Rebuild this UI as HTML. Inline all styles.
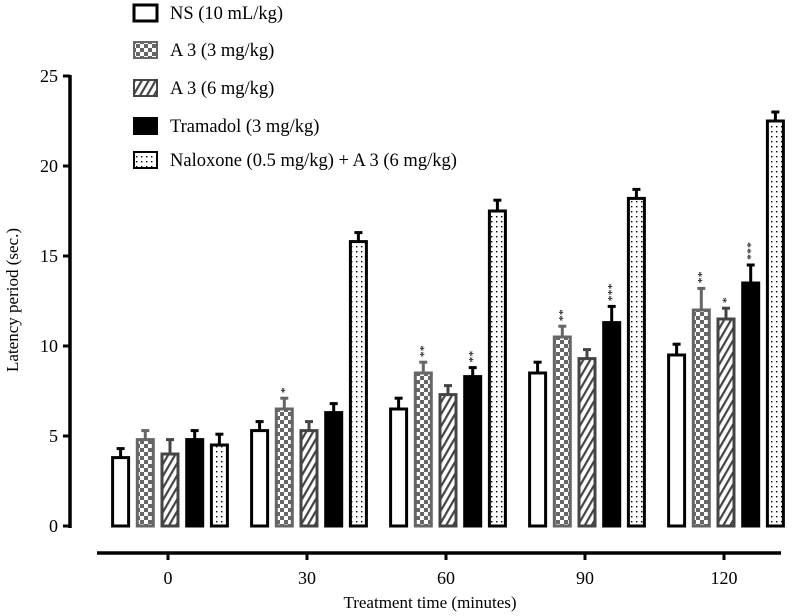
<!DOCTYPE html>
<html><head><meta charset="utf-8"><style>
body{margin:0;background:#fff}
svg{display:block;font-family:"Liberation Serif",serif}
</style></head><body>
<svg id="c" width="797" height="616">
<defs>
<pattern id="chk" width="8" height="8" patternUnits="userSpaceOnUse"><rect width="8" height="8" fill="#666"/><rect width="4" height="4" fill="#fff"/><rect x="4" y="4" width="4" height="4" fill="#fff"/></pattern>
<pattern id="hat" width="6" height="6" patternUnits="userSpaceOnUse" patternTransform="rotate(30)"><rect width="6" height="6" fill="#fff"/><rect width="2.2" height="6" fill="#444"/></pattern>
<pattern id="dot" width="5" height="5" patternUnits="userSpaceOnUse"><rect width="5" height="5" fill="#fff"/><rect x="1" y="1" width="1.4" height="1.4" fill="#000"/></pattern>
</defs>
<g id="axes"></g><g id="bars"></g><g id="legend"></g>
<text x="430" y="608" font-size="17" text-anchor="middle">Treatment time (minutes)</text>
<text transform="translate(18,300) rotate(-90)" font-size="17" text-anchor="middle">Latency period (sec.)</text>
</svg>
<script>
const categories=["0","30","60","90","120"];
const seriesNames=["NS (10 mL/kg)","A 3 (3 mg/kg)","A 3 (6 mg/kg)","Tramadol (3 mg/kg)","Naloxone (0.5 mg/kg) + A 3 (6 mg/kg)"];
const nsVals=[3.8,5.3,6.5,8.5,9.5];
const a3lowVals=[4.8,6.5,8.5,10.5,12.0];
const a3highVals=[4.0,5.3,7.3,9.3,11.5];
const tramVals=[4.8,6.3,8.3,11.3,13.5];
const naloxVals=[4.5,15.8,17.5,18.2,22.5];
const nsErr=[0.5,0.5,0.6,0.6,0.6];
const a3lowErr=[0.5,0.6,0.6,0.6,1.2];
const a3highErr=[0.8,0.5,0.5,0.5,0.6];
const tramErr=[0.5,0.5,0.5,0.9,1.0];
const naloxErr=[0.6,0.5,0.6,0.5,0.5];
const nsStars=["","","","",""];
const a3lowStars=["","*","**","**","**"];
const a3highStars=["","","","","*"];
const tramStars=["","","**","***","***"];
const naloxStars=["","","","",""];
const yTicks=[0,5,10,15,20,25];
const NS="http://www.w3.org/2000/svg";
const y=v=>526-v*18;
const x=i=>168+i*139;
function mk(p,t,a){const e=document.createElementNS(NS,t);for(const k in a)e.setAttribute(k,a[k]);p.appendChild(e);return e;}
const ax=document.getElementById('axes');
let l=mk(ax,'line',{x1:70,y1:y(25)-1,x2:70,y2:y(0)+2,stroke:'#000','stroke-width':3.5});


yTicks.forEach(t=>{
 mk(ax,'line',{x1:63,x2:70,y1:y(t),y2:y(t),stroke:'#000','stroke-width':3});
 const tx=mk(ax,'text',{x:58,y:y(t)+6,'font-size':18,'text-anchor':'end'});tx.textContent=t;
 
 
});
l=mk(ax,'line',{x1:97,x2:781,y1:553,y2:553,stroke:'#000','stroke-width':3.5});


categories.forEach((c,i)=>{
 mk(ax,'line',{x1:x(i),x2:x(i),y1:553,y2:560,stroke:'#000','stroke-width':3});
 const tx=mk(ax,'text',{x:x(i),y:584,'font-size':18,'text-anchor':'middle'});tx.textContent=c;
 
 
});
const series=[
 {v:nsVals,e:nsErr,s:nsStars,fill:'#fff',stroke:'#000'},
 {v:a3lowVals,e:a3lowErr,s:a3lowStars,fill:'url(#chk)',stroke:'#666'},
 {v:a3highVals,e:a3highErr,s:a3highStars,fill:'url(#hat)',stroke:'#444'},
 {v:tramVals,e:tramErr,s:tramStars,fill:'#000',stroke:'#000'},
 {v:naloxVals,e:naloxErr,s:naloxStars,fill:'url(#dot)',stroke:'#000'}];
const bg=document.getElementById('bars');
const pitch=24.7,bw=16;
series.forEach((s,si)=>{
 s.v.forEach((v,i)=>{
  const cx=x(i)+(si-2)*pitch+2;
  const top=y(v),et=y(v+s.e[i]);
  mk(bg,'line',{x1:cx,x2:cx,y1:top,y2:et,stroke:s.stroke,'stroke-width':3});
  mk(bg,'line',{x1:cx-4,x2:cx+4,y1:et,y2:et,stroke:s.stroke,'stroke-width':3});
  const r=mk(bg,'rect',{x:cx-bw/2,y:top,width:bw,height:y(0)-top,fill:s.fill,stroke:s.stroke,'stroke-width':3});
  
  
  if(s.s[i]){
   const st=mk(bg,'text',{transform:`translate(${cx+4},${et-5}) rotate(-90)`,'font-size':12,'text-anchor':'start'});
   st.textContent=s.s[i];
   
   
  }
 });
});
const lg=document.getElementById('legend');
const ly=[13,50,88,126,160];
series.forEach((s,si)=>{
 const g=mk(lg,'g',{});
 
 
 mk(g,'rect',{x:134,y:ly[si]-8,width:23,height:16,fill:s.fill,stroke:s.stroke,'stroke-width':si==0?3:2});
 const t=mk(g,'text',{x:170,y:ly[si]+6,'font-size':18.5});t.textContent=seriesNames[si];
});
</script>
</body></html>
